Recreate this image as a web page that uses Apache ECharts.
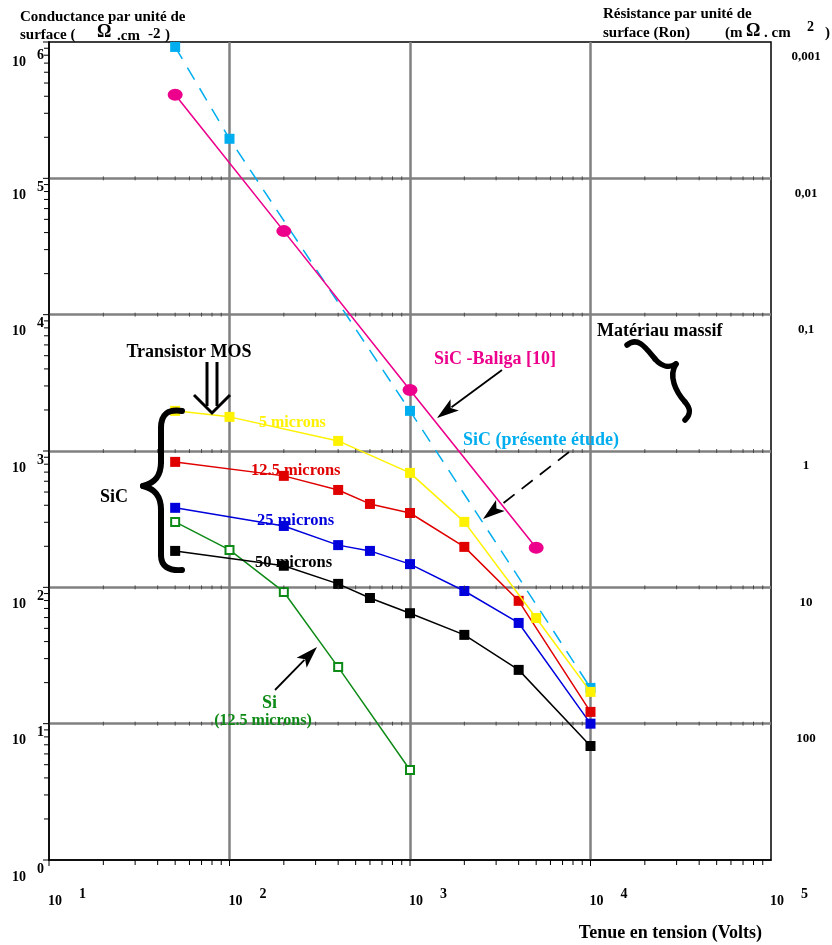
<!DOCTYPE html>
<html><head><meta charset="utf-8">
<script src="https://cdn.jsdelivr.net/npm/echarts@6/dist/echarts.min.js"></script>
<style>html,body{margin:0;padding:0;background:#fff}#c{width:832px;height:945px}</style>
</head><body><div id="c"></div>
<script>
// ---- data (voltage V, conductance Ohm^-1.cm^-2) ----
const sicEtude   = [[50, 9.2e5], [100, 1.95e5], [1000, 1970], [10000, 18.3]];
const sicBaliga  = [[50, 4.1e5], [200, 4.1e4], [1000, 2800], [5000, 195]];
const sic5um     = [[50, 1970], [100, 1780], [400, 1186], [1000, 691], [2000, 302], [5000, 59.6], [10000, 17.1]];
const sic12um    = [[50, 832], [200, 657], [400, 518], [600, 409], [1000, 351], [2000, 198], [4000, 79.6], [10000, 12.2]];
const sic25um    = [[50, 383], [200, 282], [400, 204], [600, 185], [1000, 148], [2000, 94], [4000, 54.8], [10000, 10]];
const sic50um    = [[50, 185], [200, 144], [400, 106], [600, 83.5], [1000, 64.6], [2000, 44.8], [4000, 24.8], [10000, 6.86]];
const si12um     = [[50, 302], [100, 188], [200, 92.5], [400, 26], [1000, 4.57]];

const xTickExps  = [1, 2, 3, 4, 5];
const yTickExps  = [0, 1, 2, 3, 4, 5, 6];
const rightTickValues = [1e6, 1e5, 1e4, 1e3, 1e2, 1e1];
const rightTickLabels = ['0,001', '0,01', '0,1', '1', '10', '100'];

const FONT = "'Liberation Serif','Times New Roman',serif";
const C = {cyan:'#00AEEF', pink:'#EC008C', yellow:'#FFF200', red:'#E00000', blue:'#0000DD', black:'#000000', green:'#0E8A16'};

const chart = echarts.init(document.getElementById('c'), null, {renderer:'canvas'});

function sq(name, data, color, z) {
  return {type:'line', name, data, symbol:'rect', symbolSize:10, z,
    itemStyle:{color}, lineStyle:{color, width:1.5}, emphasis:{disabled:true}};
}
const axisCommon = {
  type:'log', logBase:10,
  axisLine:{show:true, onZero:false, lineStyle:{color:'#000', width:1.5}},
  axisTick:{show:false}, axisLabel:{show:false},
  splitLine:{show:true, showMinLine:false, showMaxLine:false, lineStyle:{color:'#808080', width:2.5}}
};
chart.setOption({
  animation:false,
  grid:{left:49, top:42, right:61, bottom:85, show:true, borderColor:'#000', borderWidth:1.5, backgroundColor:'transparent'},
  xAxis:Object.assign({min:10, max:1e5}, axisCommon),
  yAxis:Object.assign({min:1, max:1e6}, axisCommon),
  series:[
    {type:'line', name:'SiC (présente étude)', data:sicEtude, symbol:'rect', symbolSize:10, z:3,
      itemStyle:{color:C.cyan}, lineStyle:{color:C.cyan, width:1.5, type:[14, 10]}},
    {type:'line', name:'SiC -Baliga [10]', data:sicBaliga, symbol:'circle', symbolSize:[15, 12], z:3,
      itemStyle:{color:C.pink}, lineStyle:{color:C.pink, width:1.6}},
    {type:'line', name:'Si (12.5 microns)', data:si12um, symbol:'emptyRect', symbolSize:8, z:3,
      itemStyle:{color:C.green, borderWidth:1.5}, lineStyle:{color:C.green, width:1.5}},
    sq('50 microns', sic50um, C.black, 4),
    sq('25 microns', sic25um, C.blue, 5),
    sq('12.5 microns', sic12um, C.red, 6),
    sq('5 microns', sic5um, C.yellow, 7)
  ]
});

function px(v){ return chart.convertToPixel({xAxisIndex:0}, v); }
function py(v){ return chart.convertToPixel({yAxisIndex:0}, v); }

const g = [];
const x0 = px(10), x1 = px(1e5), y0 = py(1), y1 = py(1e6);
// minor ticks
for (let e = 1; e < 5; e++) for (let k = 1; k <= 9; k++) {
  const x = px(k * Math.pow(10, e));
  g.push({type:'line', shape:{x1:x, y1:y0, x2:x, y2:y0 + (k === 1 ? 6 : 5)}, style:{stroke:'#000', lineWidth:1}, z:100});
  if (k > 1) {
    for (let ye = 1; ye <= 5; ye++) {
      const yy = py(Math.pow(10, ye));
      g.push({type:'line', shape:{x1:x, y1:yy - 2, x2:x, y2:yy + 2}, style:{stroke:'#333', lineWidth:0.8}, z:100});
    }
  }
}
for (let e = 0; e < 6; e++) for (let k = 1; k <= 9; k++) {
  const y = py(k * Math.pow(10, e));
  g.push({type:'line', shape:{x1:x0 - (k === 1 ? 6 : 5), y1:y, x2:x0, y2:y}, style:{stroke:'#000', lineWidth:1}, z:100});
}
g.push({type:'line', shape:{x1:x0 - 6, y1:y1, x2:x0, y2:y1}, style:{stroke:'#000', lineWidth:1}, z:100});

function txt(text, x, y, size, color, align) {
  return {type:'text', z:120, style:{text, x, y, fill:color || '#000',
    font:'bold ' + size + 'px ' + FONT, textAlign:align || 'left', textVerticalAlign:'middle'}};
}
// x tick labels
xTickExps.forEach(e => {
  const x = px(Math.pow(10, e));
  g.push(txt('10', x - 1, 901, 14));
  g.push(txt(String(e), x + 30, 894, 14));
});
// y tick labels
yTickExps.forEach(e => {
  const y = py(Math.pow(10, e));
  g.push(txt('10', 12, y + (e === 6 ? 20 : 17), 14));
  g.push(txt(String(e), 37, y + (e === 6 ? 13 : 9), 14));
});
rightTickValues.forEach((v, i) => {
  g.push(txt(rightTickLabels[i], 806, py(v) + 15, 13, '#000', 'center'));
});

// titles
g.push(txt('Conductance par unité de', 20, 17, 15));
g.push(txt('surface (', 20, 35, 15));
g.push(txt('Ω', 97, 32, 18));
g.push(txt('.cm', 117, 36, 15));
g.push(txt('-2', 148, 34, 15));
g.push(txt(')', 165, 35, 15));
g.push(txt('Résistance par unité de', 603, 14, 15));
g.push(txt('surface (Ron)', 603, 33, 15));
g.push(txt('(m', 725, 33, 15));
g.push(txt('Ω', 746, 31, 18));
g.push(txt('. cm', 764, 33, 15));
g.push(txt('2', 807, 27, 14));
g.push(txt(')', 825, 33, 15));
g.push(txt('Tenue en tension (Volts)', 762, 933, 18, '#000', 'right'));

// annotations
g.push(txt('Transistor MOS', 189, 352, 18, '#000', 'center'));
g.push(txt('5 microns', 259, 423, 16, C.yellow));
g.push(txt('12.5 microns', 251, 471, 16.5, C.red));
g.push(txt('25 microns', 257, 521, 16.5, C.blue));
g.push(txt('50 microns', 255, 563, 16.5, C.black));
g.push(txt('SiC', 100, 497, 18));
g.push(txt('SiC -Baliga [10]', 434, 359, 18, C.pink));
g.push(txt('SiC (présente étude)', 463, 440, 18, C.cyan));
g.push(txt('Matériau massif', 597, 331, 18));
g.push(txt('Si', 262, 703, 18, C.green));
g.push(txt('(12.5 microns)', 263, 721, 16, C.green, 'center'));

// braces (bezier segments)
function bez(a, b, c, d, w) {
  g.push({type:'bezierCurve', z:110, shape:{x1:a[0], y1:a[1], cpx1:b[0], cpy1:b[1], cpx2:c[0], cpy2:c[1], x2:d[0], y2:d[1]},
    style:{stroke:'#000', lineWidth:w, fill:null, lineCap:'round'}});
}
function seg(a, b, w) {
  g.push({type:'line', z:110, shape:{x1:a[0], y1:a[1], x2:b[0], y2:b[1]}, style:{stroke:'#000', lineWidth:w, lineCap:'round'}});
}
bez([182,411],[168,409],[161,414],[161,428],6);
seg([161,428],[161,462],6);
bez([161,462],[161,476],[155,483],[143,486],6);
bez([143,486],[155,489],[161,496],[161,510],6);
seg([161,510],[161,555],6);
bez([161,555],[161,566],[168,571],[182,570],6);

bez([627,345],[638,336],[646,348],[655,359],5.5);
bez([655,359],[662,367],[670,368],[676,364],5.5);
bez([676,364],[668,376],[676,392],[685,402],5.5);
bez([685,402],[692,410],[690,415],[685,420],5.5);

// MOS double arrow
g.push({type:'line', z:110, shape:{x1:207, y1:362, x2:207, y2:406}, style:{stroke:'#000', lineWidth:3}});
g.push({type:'line', z:110, shape:{x1:217, y1:362, x2:217, y2:406}, style:{stroke:'#000', lineWidth:3}});
g.push({type:'polyline', z:110, shape:{points:[[194,395],[212,413],[230,395]]}, style:{stroke:'#000', lineWidth:3, fill:null}});

function arrow(xa, ya, xb, yb, dashed) {
  const dx = xb - xa, dy = yb - ya, L = Math.hypot(dx, dy), ux = dx / L, uy = dy / L;
  const hl = 22, hw = 7;
  const bx = xb - ux * hl, by = yb - uy * hl;
  g.push({type:'line', z:110, shape:{x1:xa, y1:ya, x2:bx + ux * 4, y2:by + uy * 4},
    style:{stroke:'#000', lineWidth:1.8, lineDash: dashed ? [14, 9] : null}});
  g.push({type:'polygon', z:110, shape:{points:[[xb, yb], [bx - uy * hw, by + ux * hw], [bx + ux * 5, by + uy * 5], [bx + uy * hw, by - ux * hw]]},
    style:{fill:'#000'}});
}
arrow(502, 370, 437, 418, false);
arrow(569, 452, 483, 519, true);
arrow(275, 690, 317, 647, false);

chart.setOption({graphic:g});
</script>
</body></html>
